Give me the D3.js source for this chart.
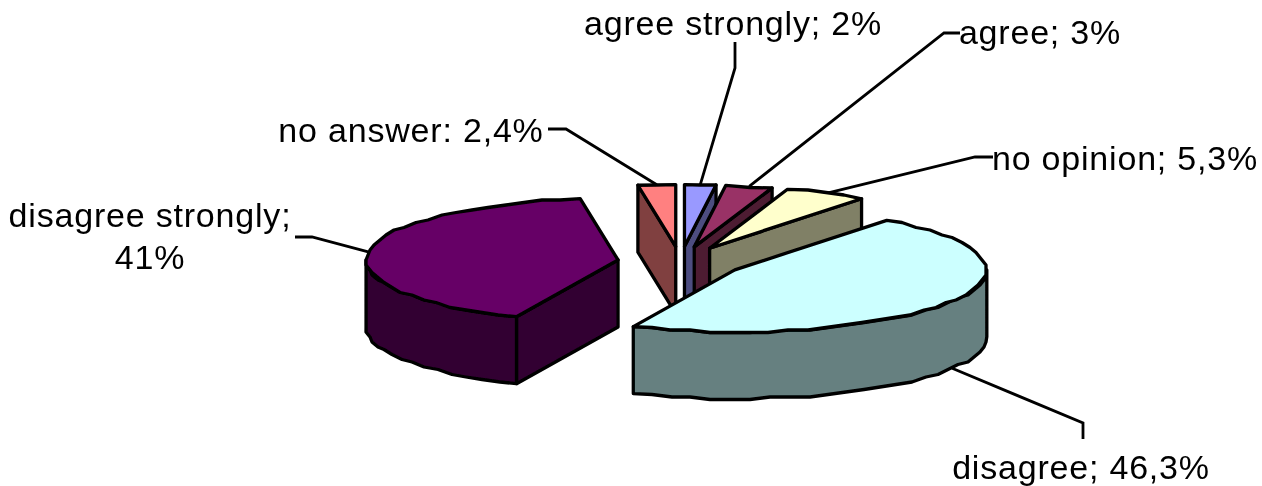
<!DOCTYPE html>
<html>
<head>
<meta charset="utf-8">
<script src="https://cdnjs.cloudflare.com/ajax/libs/d3/7.8.5/d3.min.js"></script>
<style>
html,body{margin:0;padding:0;background:#fff;overflow:hidden}
svg{display:block}
text{font-family:"Liberation Sans",Arial,sans-serif;font-size:34px;letter-spacing:0.8px;fill:#000}
</style>
</head>
<body>
<svg id="c" width="1262" height="486"></svg>
<script>
// ---- data ----
const categories = ["agree strongly","agree","no opinion","disagree","disagree strongly","no answer"];
const values = [2,3,5.3,46.3,41,2.4];
const labelLines = [["agree strongly; 2%"],["agree; 3%"],["no opinion; 5,3%"],["disagree; 46,3%"],["disagree strongly;","41%"],["no answer: 2,4%"]];
const topColors = ["#9999ff","#993366","#ffffcc","#ccffff","#660066","#ff8080"];
const sideColors = ["#4d4d80","#4d1a33","#808066","#668080","#330033","#804040"];

// ---- layout ----
const cx=680.5, cy=262, rx=252, ry=62, depth=67, explode=0.25;
const labelPos = [[733,35],[1040,44],[1125,170],[1081,479],[150,[227,269]],[411,142]];
const elbows = [
  [[735,68],[735,42]],
  [[944,33],[960,33]],
  [[975,157],[993,157]],
  [[1083,423],[1083,439]],
  [[312,237],[295,237]],
  [[566,129],[548,129]]
];

const svg=d3.select("#c");
const defs=svg.append("defs");
defs.append("filter").attr("id","soft").append("feGaussianBlur").attr("stdDeviation",0.4);
const root=svg.append("g").attr("filter","url(#soft)");

const slices=d3.pie().sort(null).value(d=>d)(values);
const xS=d3.scaleLinear().domain([-1,1]).range([-rx,rx]);
const yS=d3.scaleLinear().domain([-1,1]).range([-ry,ry]);
const line=d3.line();
const STEP=Math.PI/40;
const snap=(v,g)=>Math.round(v/g)*g;

function centre(s){
  const m=(s.startAngle+s.endAngle)/2;
  return [cx+xS(explode*Math.sin(m)), cy+yS(-explode*Math.cos(m))];
}
function rim(c,a){return [c[0]+xS(Math.sin(a)), c[1]+yS(-Math.cos(a))];}
function arcPts(c,a,b){
  const pts=[rim(c,a)];
  const n=Math.max(1,Math.round((b-a)/STEP));
  for(let i=1;i<n;i++){
    const p=rim(c,a+(b-a)*i/n);
    pts.push([snap(p[0],2),snap(p[1],2.5)]);
  }
  pts.push(rim(c,b));
  return pts;
}
const down=p=>[p[0],p[1]+depth];

// leader lines
const leaders=root.append("g");
slices.forEach((s,i)=>{
  const c=centre(s), m=(s.startAngle+s.endAngle)/2;
  let a=rim(c,m);
  if(Math.cos(m)<0) a=down(a);
  leaders.append("path").attr("d",line([a,...elbows[i]]))
    .attr("fill","none").attr("stroke","#000").attr("stroke-width",2.8);
});

// slices, back to front
const order=[4,5,0,1,2,3];
order.forEach(i=>{
  const s=slices[i], c=centre(s), a=s.startAngle, b=s.endAngle;
  const g=root.append("g").attr("stroke","#000").attr("stroke-width",3.3).attr("stroke-linejoin","round");
  const wall=pts=>g.append("path").attr("d",line(pts)+"Z").attr("fill",sideColors[i]);
  if(Math.sin(b)>1e-6){
    const o=rim(c,b); wall([c,o,down(o),down(c)]);
  }
  if(Math.sin(a)<-1e-6){
    const o=rim(c,a); wall([c,o,down(o),down(c)]);
  }
  const w0=Math.max(a,Math.PI/2), w1=Math.min(b,3*Math.PI/2);
  if(w1>w0){
    const e=arcPts(c,w0,w1);
    wall([...e,...e.slice().reverse().map(down)]);
  }
  g.append("path").attr("d",line([c,...arcPts(c,a,b)])+"Z").attr("fill",topColors[i]);
});

// labels
labelLines.forEach((ls,i)=>{
  const p=labelPos[i];
  ls.forEach((t,j)=>{
    const y=Array.isArray(p[1])?p[1][j]:p[1];
    root.append("text").attr("x",p[0]).attr("y",y).attr("text-anchor","middle").text(t);
  });
});
</script>
</body>
</html>
